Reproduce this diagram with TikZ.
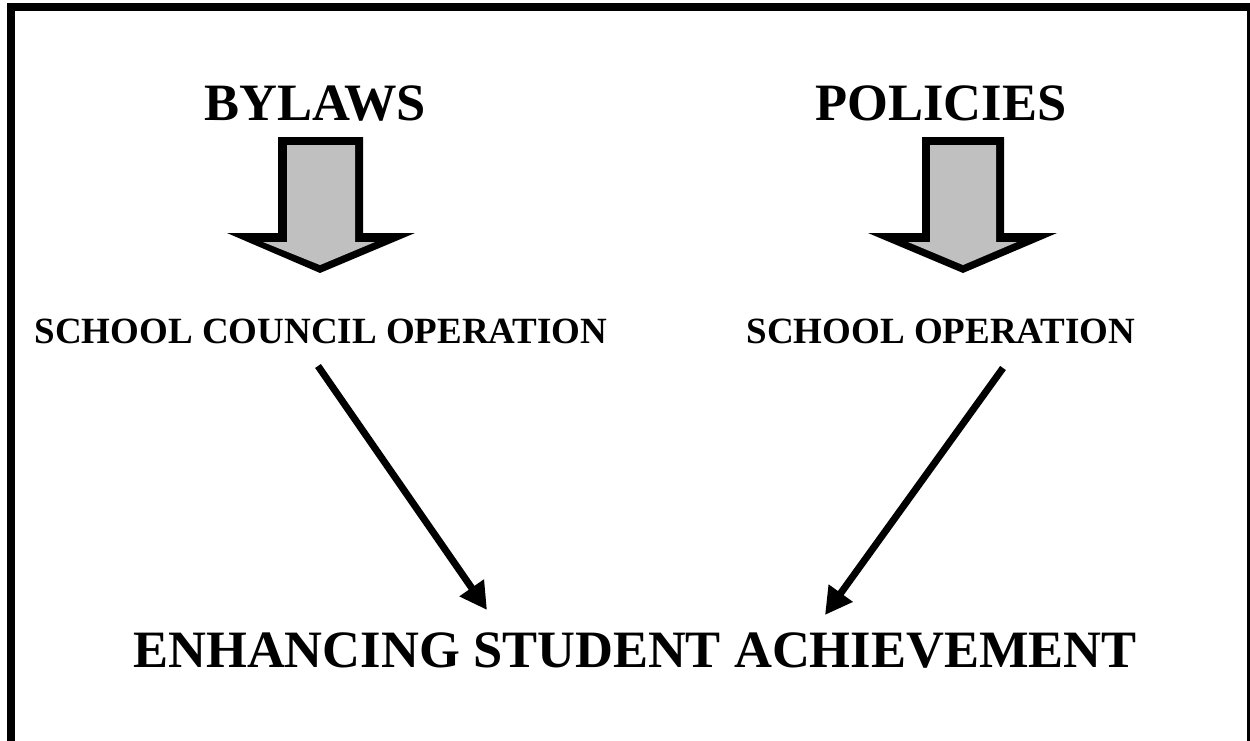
\documentclass[tikz,border=0pt]{standalone}
\usepackage{fontspec}
\setmainfont{Liberation Serif}
\usetikzlibrary{arrows.meta}
\definecolor{arrowgray}{RGB}{192,192,192}
\tikzset{
  bigtitle/.style={font=\bfseries\fontsize{52.5}{60}\selectfont, anchor=base, inner sep=0pt},
  subtitle/.style={font=\bfseries\fontsize{37}{44}\selectfont, anchor=base, inner sep=0pt},
  link/.style={line width=7pt, -{Triangle[length=27pt,width=28pt]}},
  frameline/.style={line width=8pt},
  blockout/.style={fill=black},
  blockin/.style={fill=arrowgray},
}
\begin{document}
\begin{tikzpicture}[x=1pt,y=-1pt]
\useasboundingbox (0,0) rectangle (1250,740);
\clip (0,0) rectangle (1250,740);
\fill[white] (0,0) rectangle (1250,740);
% frame (open at the bottom)
\draw[frameline] (11,745) -- (11,7) -- (1250.7,7) -- (1250.7,745);

% titles
\node[bigtitle] (bylaws) at (315,120) {BYLAWS};
\node[bigtitle] (policies) at (941,120) {POLICIES};
\node[subtitle] (sco) at (321,343) {SCHOOL COUNCIL OPERATION};
\node[subtitle] (so) at (941,343) {SCHOOL OPERATION};
\node[bigtitle] (esa) at (635,667) {ENHANCING STUDENT ACHIEVEMENT};

% block arrows
\fill[blockout] (278,137) -- (363,137) -- (363,233) -- (415,233) -- (320,273) -- (227,233) -- (278,233) -- cycle;
\fill[blockin] (287,145) -- (355,145) -- (355,242) -- (375,242) -- (320,265) -- (263,242) -- (287,242) -- cycle;
\fill[blockout] (922,137) -- (1004,137) -- (1004,233) -- (1057,233) -- (963,273) -- (868,233) -- (922,233) -- cycle;
\fill[blockin] (930,145) -- (996,145) -- (996,242) -- (1017,242) -- (963,265) -- (908,242) -- (930,242) -- cycle;

% connectors
\coordinate (scoout) at (318,366);
\coordinate (soout) at (1003,368);
\coordinate (esainl) at (487,610);
\coordinate (esainr) at (825,615);
\draw[link] (scoout) -- (esainl);
\draw[link] (soout) -- (esainr);
\end{tikzpicture}
\end{document}
